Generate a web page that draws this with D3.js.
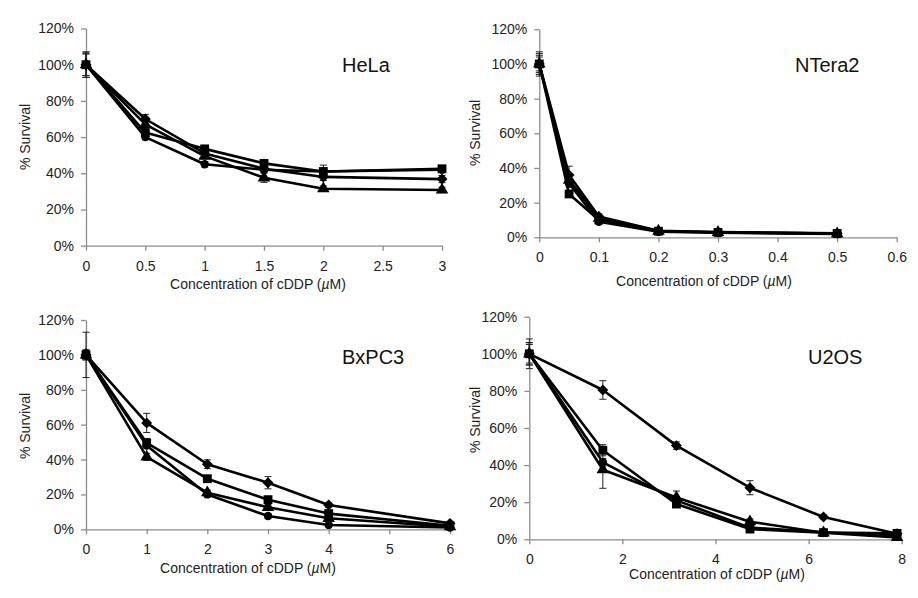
<!DOCTYPE html>
<html><head><meta charset="utf-8">
<script src="https://cdn.jsdelivr.net/npm/d3@7"></script>
<style>body{margin:0;background:#fff}svg{display:block;font-family:"Liberation Sans",Arial,sans-serif}</style>
</head><body><svg id="c" width="918" height="598"></svg>
<script>
// ---------- data ----------
const yTicks = [0, 20, 40, 60, 80, 100, 120];

const helaX = [0, 0.5, 1, 1.5, 2, 3];
const helaTicks = [0, 0.5, 1, 1.5, 2, 2.5, 3];
const helaDiamond = [100, 70, 51, 42.5, 38, 36.8];
const helaSquare = [100, 62.5, 53.5, 45.5, 41, 42.5];
const helaTriangle = [100, 67, 49.5, 37.5, 31.5, 30.8];
const helaCircle = [100, 60, 45, 42, 41, 42];
const helaDiamondErr = [7, 2.5, 1.5, 1.5, 2, 2];
const helaSquareErr = [7, 2, 1.5, 1.5, 3.5, 1.5];
const helaTriangleErr = [6, 2, 1.5, 2.5, 1.5, 1.5];
const helaCircleErr = [6, 1.5, 1.5, 1.5, 1.5, 1];

const nteraX = [0, 0.05, 0.1, 0.2, 0.3, 0.5];
const nteraTicks = [0, 0.1, 0.2, 0.3, 0.4, 0.5, 0.6];
const nteraDiamond = [100, 36, 12, 3.8, 3, 2.3];
const nteraSquare = [100, 25, 10, 3.5, 2.8, 2.2];
const nteraTriangle = [100, 33, 11, 3.6, 2.9, 2.1];
const nteraCircle = [100, 31, 9, 3.2, 2.6, 2];
const nteraDiamondErr = [7, 5, 1.5, 0.5, 0.5, 0.5];
const nteraSquareErr = [6, 2, 1, 0.5, 0.5, 0.5];
const nteraTriangleErr = [5, 3, 1, 0.5, 0.5, 0.5];
const nteraCircleErr = [4, 2, 1, 0.5, 0.5, 0.5];

const bxpcX = [0, 1, 2, 3, 4, 6];
const bxpcTicks = [0, 1, 2, 3, 4, 5, 6];
const bxpcDiamond = [100, 61, 37.3, 26.7, 13.9, 3.4];
const bxpcSquare = [100, 49.5, 29, 17, 9, 2];
const bxpcTriangle = [100, 41.5, 21, 12.6, 6.3, 1.5];
const bxpcCircle = [100, 48, 20, 7.6, 2.5, 1];
const bxpcDiamondErr = [13, 5.5, 2.5, 3.5, 1.2, 0.8];
const bxpcSquareErr = [3, 2.5, 1.5, 1.5, 1, 0.5];
const bxpcTriangleErr = [2.5, 2, 1.5, 1.5, 1, 0.5];
const bxpcCircleErr = [2, 1.5, 1.5, 1.5, 0.8, 0.5];

const u2osX = [0, 1.58, 3.16, 4.74, 6.32, 7.9];
const u2osTicks = [0, 2, 4, 6, 8];
const u2osDiamond = [100, 80.5, 50.5, 27.8, 12, 3];
const u2osSquare = [100, 48, 19, 5.5, 3.6, 3.2];
const u2osCircle = [100, 41.5, 21, 6.3, 3.8, 2.2];
const u2osTriangle = [100, 37.5, 22.5, 9.5, 3.5, 1];
const u2osDiamondErr = [5, 5, 2, 3.8, 1, 0.5];
const u2osSquareErr = [6, 3, 1.5, 1, 0.5, 0.5];
const u2osCircleErr = [8, 2, 2, 1, 0.5, 0.5];
const u2osTriangleErr = [6, 10, 3.5, 1.5, 0.5, 0.5];

const panelNames = ["HeLa", "NTera2", "BxPC3", "U2OS"];

// ---------- layout ----------
const svg = d3.select("#c");
const layouts = [
  {l: 86, r: 442, t: 28.5, b: 245.7, xMax: 3, ticks: helaTicks, fmt: d3.format(""),
   lab: [342, 72], yt: [25, 137], xt: [258, 289],
   xs: helaX, series: [[helaCircle, helaCircleErr, "circle"], [helaTriangle, helaTriangleErr, "triangle"], [helaDiamond, helaDiamondErr, "diamond"], [helaSquare, helaSquareErr, "square"]]},
  {l: 539.3, r: 896.7, t: 29.3, b: 237.3, xMax: 0.6, ticks: nteraTicks, fmt: d3.format(".1~f"),
   lab: [795, 72], yt: [475, 133], xt: [704, 286],
   xs: nteraX, series: [[nteraCircle, nteraCircleErr, "circle"], [nteraTriangle, nteraTriangleErr, "triangle"], [nteraDiamond, nteraDiamondErr, "diamond"], [nteraSquare, nteraSquareErr, "square"]]},
  {l: 86, r: 450, t: 320, b: 529.3, xMax: 6, ticks: bxpcTicks, fmt: d3.format(""),
   lab: [342, 364], yt: [25, 426], xt: [248, 573],
   xs: bxpcX, series: [[bxpcCircle, bxpcCircleErr, "circle"], [bxpcTriangle, bxpcTriangleErr, "triangle"], [bxpcDiamond, bxpcDiamondErr, "diamond"], [bxpcSquare, bxpcSquareErr, "square"]]},
  {l: 529.3, r: 901.7, t: 316.7, b: 539.3, xMax: 8, ticks: u2osTicks, fmt: d3.format(""),
   lab: [808, 364], yt: [475, 420], xt: [717, 579],
   xs: u2osX, series: [[u2osCircle, u2osCircleErr, "circle"], [u2osTriangle, u2osTriangleErr, "triangle"], [u2osDiamond, u2osDiamondErr, "diamond"], [u2osSquare, u2osSquareErr, "square"]]}
];

const symbolPath = {
  circle: d3.symbol(d3.symbolCircle, 55)(),
  triangle: d3.symbol(d3.symbolTriangle, 68)(),
  square: d3.symbol(d3.symbolSquare, 78)(),
  diamond: d3.symbol(d3.symbolSquare, 60)()
};

layouts.forEach((p, i) => {
  const x = d3.scaleLinear().domain([0, p.xMax]).range([p.l, p.r]);
  const y = d3.scaleLinear().domain([0, 120]).range([p.b, p.t]);
  const g = svg.append("g");

  const ya = g.append("g").attr("transform", `translate(${p.l},0)`)
    .call(d3.axisLeft(y).tickValues(yTicks).tickFormat(d => d + "%").tickSize(5).tickPadding(7).tickSizeOuter(0));
  const xa = g.append("g").attr("transform", `translate(0,${p.b})`)
    .call(d3.axisBottom(x).tickValues(p.ticks).tickFormat(p.fmt).tickSize(5).tickPadding(10).tickSizeOuter(0));
  [ya, xa].forEach(a => {
    a.select(".domain").attr("stroke", "#8c8c8c").attr("stroke-width", 1.3);
    a.selectAll(".tick line").attr("stroke", "#8c8c8c").attr("stroke-width", 1.3);
    a.selectAll("text").attr("fill", "#222").style("font-size", "14px");
  });

  // titles
  g.append("text").attr("transform", `translate(${p.yt[0]},${p.yt[1]}) rotate(-90)`)
    .attr("text-anchor", "middle").attr("dy", "0.35em").style("font-size", "14px").attr("fill", "#222")
    .text("% Survival");
  const xt = g.append("text").attr("x", p.xt[0]).attr("y", p.xt[1]).attr("text-anchor", "middle")
    .style("font-size", "14px").attr("fill", "#222");
  xt.append("tspan").text("Concentration of cDDP (");
  xt.append("tspan").style("font-style", "italic").text("\u00b5");
  xt.append("tspan").text("M)");
  g.append("text").attr("x", p.lab[0]).attr("y", p.lab[1]).style("font-size", "20px").attr("fill", "#111")
    .text(panelNames[i]);

  // error bars
  p.series.forEach(([vals, errs]) => {
    vals.forEach((v, k) => {
      const cx = x(p.xs[k]), y1 = y(v + errs[k]), y2 = y(v - errs[k]);
      g.append("line").attr("x1", cx).attr("x2", cx).attr("y1", y1).attr("y2", y2).attr("stroke", "#222").attr("stroke-width", 1);
      [y1, y2].forEach(yy => g.append("line").attr("x1", cx - 3.5).attr("x2", cx + 3.5).attr("y1", yy).attr("y2", yy).attr("stroke", "#222").attr("stroke-width", 1));
    });
  });

  // lines and markers
  const line = d3.line().x((d, k) => x(p.xs[k])).y(d => y(d));
  p.series.forEach(([vals, errs, sym]) => {
    g.append("path").datum(vals).attr("d", line).attr("fill", "none").attr("stroke", "#000").attr("stroke-width", 2.6).attr("stroke-linejoin", "round");
    g.selectAll(null).data(vals).join("path")
      .attr("d", symbolPath[sym])
      .attr("transform", (d, k) => `translate(${x(p.xs[k])},${y(d)})` + (sym === "diamond" ? " rotate(45)" : ""))
      .attr("fill", "#000");
  });
});
</script></body></html>
